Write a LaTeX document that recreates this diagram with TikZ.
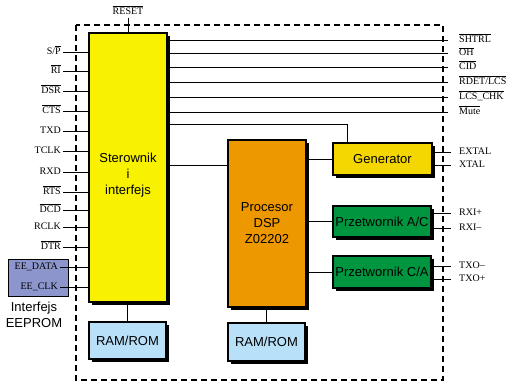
\documentclass[tikz,border=0pt]{standalone}
\usepackage{fontspec}
\setmainfont{Liberation Serif}
\setsansfont{Liberation Sans}
\usetikzlibrary{positioning,calc,shadows}

\definecolor{sterYellow}{RGB}{248,241,0}
\definecolor{dspOrange}{RGB}{238,152,0}
\definecolor{genGold}{RGB}{244,214,0}
\definecolor{convGreen}{RGB}{0,150,64}
\definecolor{ramBlue}{RGB}{184,224,248}
\definecolor{eeBlue}{RGB}{141,150,204}

\begin{document}
\begin{tikzpicture}[x=1pt,y=-1pt,
    blokText/.style={align=center, font=\sffamily\fontsize{13}{16}\selectfont},
    blok/.style={draw, line width=1.6pt, inner sep=0pt, blokText,
        drop shadow={shadow xshift=3pt, shadow yshift=-3pt, opacity=1, fill=black}},
    sig/.style={font=\fontsize{10}{12}\selectfont, inner sep=1pt, text height=7pt, text depth=2pt},
    wire/.style={line width=0.8pt}]
    \useasboundingbox (0,0) rectangle (507,385);

    % Dashed chip border
    \draw[line width=1.6pt, dash pattern=on 6pt off 4pt] (76,25) rectangle (443,380);

    % Blocks
    \node[blok, fill=sterYellow, minimum width=78pt, minimum height=269pt,
        label={[blokText, yshift=-8pt]center:Sterownik\\i\\interfejs}] (ster) at (128,167.5) {};
    \node[blok, fill=dspOrange, minimum width=78pt, minimum height=167pt] (proc) at (267,223.5) {Procesor\\DSP\\Z02202};
    \node[blok, fill=genGold, minimum width=99pt, minimum height=32pt] (gen) at (382.5,159) {Generator};
    \node[blok, fill=convGreen, minimum width=98pt, minimum height=31pt] (adc) at (382,221.5) {Przetwornik A/C};
    \node[blok, fill=convGreen, minimum width=98pt, minimum height=32pt] (dac) at (382,272) {Przetwornik C/A};
    \node[blok, fill=ramBlue, minimum width=77pt, minimum height=37pt] (ramA) at (127.5,340.5) {RAM/ROM};
    \node[blok, fill=ramBlue, minimum width=77pt, minimum height=38pt] (ramB) at (266.5,342) {RAM/ROM};

    % EEPROM interface
    \node[draw, fill=eeBlue, line width=0.8pt, minimum width=60pt, minimum height=37pt] (eeprom) at (38,277.5) {};
    \node[blokText] (eeName) at (34,315) {Interfejs\\EEPROM};

    % Internal links
    \draw[wire] (ramA.north |- ster.south) -- (ramA.north);
    \draw[wire] (ramB.north |- proc.south) -- (ramB.north);
    \coordinate (procTap) at (200,165);
    \draw[wire] (ster.east |- procTap) -- (procTap -| proc.west);
    \coordinate (genTap) at (347,124);
    \draw[wire] (ster.east |- genTap) -- (genTap) -- (genTap |- gen.north);
    \draw[wire] (proc.east |- gen.west) -- (gen.west);
    \draw[wire] (proc.east |- adc.west) -- (adc.west);
    \draw[wire] (proc.east |- dac.west) -- (dac.west);

    % Reset
    \node[sig] (lRESET) at (128,12) {$\overline{\mbox{RESET}}$};
    \draw[wire] (lRESET.south) -- (ster.north);

    % Left signals
    \node[sig, anchor=east] (lSP) at (62,52) {S/$\overline{\mbox{P}}$};
    \node[sig, anchor=east] (lRI) at (62,71) {$\overline{\mbox{RI}}$};
    \node[sig, anchor=east] (lDSR) at (62,91) {$\overline{\mbox{DSR}}$};
    \node[sig, anchor=east] (lCTS) at (62,111) {$\overline{\mbox{CTS}}$};
    \node[sig, anchor=east] (lTXD) at (62,131) {TXD};
    \node[sig, anchor=east] (lTCLK) at (62,151) {TCLK};
    \node[sig, anchor=east] (lRXD) at (62,172) {RXD};
    \node[sig, anchor=east] (lRTS) at (62,192) {$\overline{\mbox{RTS}}$};
    \node[sig, anchor=east] (lDCD) at (62,210) {$\overline{\mbox{DCD}}$};
    \node[sig, anchor=east] (lRCLK) at (62,227) {RCLK};
    \node[sig, anchor=east] (lDTR) at (62,247) {$\overline{\mbox{DTR}}$};
    \node[sig, anchor=east] (lEED) at (59,267) {EE\_DATA};
    \node[sig, anchor=east] (lEEC) at (59,287) {EE\_CLK};
    \foreach \s in {lSP,lRI,lDSR,lCTS,lTXD,lTCLK,lRXD,lRTS,lDCD,lRCLK,lDTR,lEED,lEEC}
        \draw[wire, shorten <=1pt] (\s.east) -- (\s.east -| ster.west);

    % Right signals of the controller
    \node[sig, anchor=west] (rSHTRL) at (458,40) {$\overline{\mbox{SHTRL}}$};
    \node[sig, anchor=west] (rOH) at (458,53.5) {$\overline{\mbox{OH}}$};
    \node[sig, anchor=west] (rCID) at (458,67) {$\overline{\mbox{CID}}$};
    \node[sig, anchor=west] (rRDET) at (458,82) {$\overline{\mbox{RDET/LCS}}$};
    \node[sig, anchor=west] (rLCS) at (458,97) {$\overline{\mbox{LCS\_CHK}}$};
    \node[sig, anchor=west] (rMute) at (458,112) {$\overline{\mbox{Mute}}$};
    \foreach \s in {rSHTRL,rOH,rCID,rRDET,rLCS,rMute}
        \draw[wire, shorten >=10pt] (ster.east |- \s.west) -- (\s.west);

    % Right signals of the analog part
    \node[sig, anchor=west] (rEXTAL) at (458,152) {EXTAL};
    \node[sig, anchor=west] (rXTAL) at (458,165) {XTAL};
    \node[sig, anchor=west] (rRXIp) at (458,213) {RXI+};
    \node[sig, anchor=west] (rRXIm) at (458,228) {RXI--};
    \node[sig, anchor=west] (rTXOm) at (458,266) {TXO--};
    \node[sig, anchor=west] (rTXOp) at (458,279) {TXO+};
    \draw[wire, shorten >=7pt] (gen.east |- rEXTAL.west) -- (rEXTAL.west);
    \draw[wire, shorten >=7pt] (gen.east |- rXTAL.west) -- (rXTAL.west);
    \draw[wire, shorten >=7pt] (adc.east |- rRXIp.west) -- (rRXIp.west);
    \draw[wire, shorten >=7pt] (adc.east |- rRXIm.west) -- (rRXIm.west);
    \draw[wire, shorten >=7pt] (dac.east |- rTXOm.west) -- (rTXOm.west);
    \draw[wire, shorten >=7pt] (dac.east |- rTXOp.west) -- (rTXOp.west);
\end{tikzpicture}
\end{document}
